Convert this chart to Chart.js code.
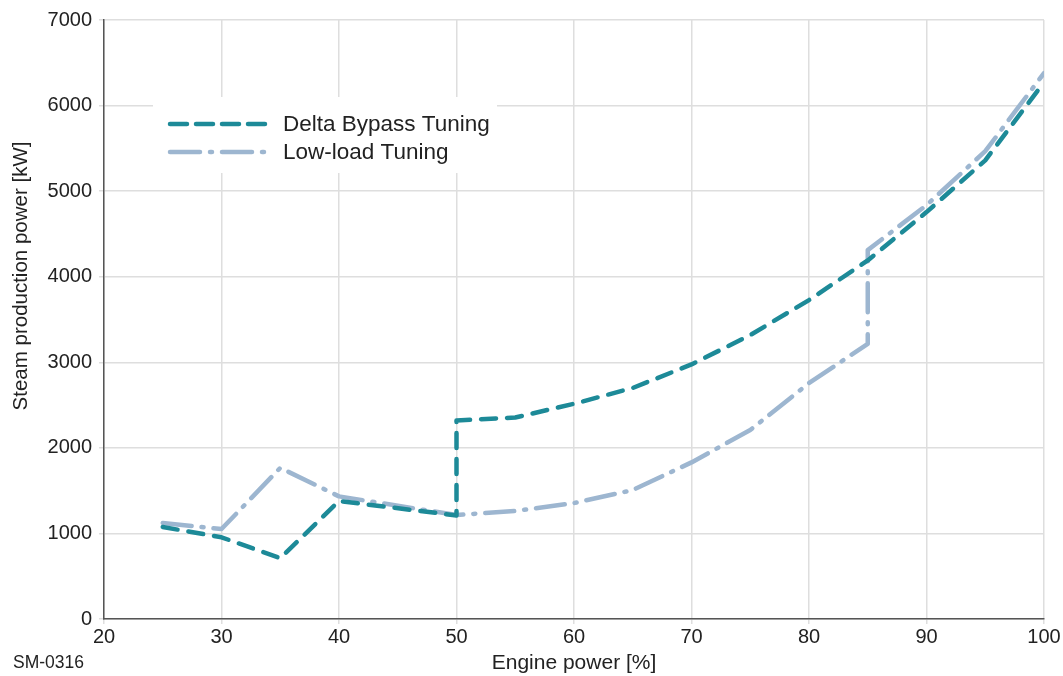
<!DOCTYPE html>
<html><head><meta charset="utf-8">
<script src="https://cdn.jsdelivr.net/npm/chart.js@4"></script>
<style>html,body{margin:0;padding:0;background:#fff}#wrap{width:1063px;height:676px;position:relative}</style>
</head><body><div id="wrap"><canvas id="c" width="1063" height="676"></canvas></div>
<script>
const deltaX = [25, 30, 35, 40, 50, 50, 55, 60, 65, 70, 75, 80, 85, 90, 95, 100];
const deltaY = [1075, 955, 710, 1379, 1210, 2320, 2355, 2515, 2700, 2975, 3318, 3727, 4190, 4755, 5360, 6273];
const lowX = [25, 30, 35, 40, 50, 55, 60, 65, 70, 75, 80, 85, 85, 90, 95, 100];
const lowY = [1123, 1051, 1766, 1433, 1215, 1262, 1355, 1507, 1830, 2208, 2757, 3215, 4311, 4836, 5467, 6379];
const xTicks = [20, 30, 40, 50, 60, 70, 80, 90, 100];
const yTicks = [0, 1000, 2000, 3000, 4000, 5000, 6000, 7000];
const seriesNames = ['Delta Bypass Tuning', 'Low-load Tuning'];
const yTitle = 'Steam production power [kW]';
const xTitle = 'Engine power [%]';
const figId = 'SM-0316';
const colDelta = '#1d8a98';
const colLow = '#9db6d0';
const dashDelta = [15, 11];
const dashLow = [29, 10, 2, 10];
const FONT = "'Liberation Sans', Arial, sans-serif";

const pts = (xs, ys) => xs.map((x, i) => ({x, y: ys[i]}));

const legendPlugin = {
  id: 'customLegend',
  afterDatasetsDraw(chart) {
    const ctx = chart.ctx;
    ctx.save();
    ctx.fillStyle = '#fff';
    ctx.fillRect(153, 97, 344, 76);
    const items = [
      {y: 124, color: colDelta, dash: [17, 9], label: seriesNames[0]},
      {y: 152, color: colLow, dash: [30, 10, 2, 10], label: seriesNames[1]}
    ];
    items.forEach(it => {
      ctx.strokeStyle = it.color;
      ctx.lineWidth = 4.5;
      ctx.lineCap = 'round';
      ctx.setLineDash(it.dash);
      ctx.beginPath();
      ctx.moveTo(170, it.y);
      ctx.lineTo(266, it.y);
      ctx.stroke();
      ctx.setLineDash([]);
      ctx.fillStyle = '#222';
      ctx.font = '22.5px ' + FONT;
      ctx.textBaseline = 'middle';
      ctx.textAlign = 'left';
      ctx.fillText(it.label, 283, it.y + 1);
    });
    ctx.font = '17.5px ' + FONT;
    ctx.textBaseline = 'middle';
    ctx.fillStyle = '#222';
    ctx.fillText(figId, 13, 663);
    ctx.translate(21, 276);
    ctx.rotate(-Math.PI / 2);
    ctx.textAlign = 'center';
    ctx.font = '20.5px ' + FONT;
    ctx.fillText(yTitle, 0, 0);
    ctx.restore();
  }
};

new Chart(document.getElementById('c'), {
  type: 'line',
  data: {
    datasets: [
      {label: seriesNames[0], data: pts(deltaX, deltaY), borderColor: colDelta, borderWidth: 4.5,
       borderDash: dashDelta, borderCapStyle: 'round', borderJoinStyle: 'round', pointRadius: 0, tension: 0, fill: false},
      {label: seriesNames[1], data: pts(lowX, lowY), borderColor: colLow, borderWidth: 4.5,
       borderDash: dashLow, borderCapStyle: 'round', borderJoinStyle: 'round', pointRadius: 0, tension: 0, fill: false}
    ]
  },
  options: {
    responsive: false,
    animation: false,
    layout: {padding: {top: 20, right: 19, left: 0, bottom: 0}},
    plugins: {legend: {display: false}, tooltip: {enabled: false}},
    scales: {
      x: {
        type: 'linear', min: 20, max: 100,
        afterBuildTicks: s => { s.ticks = xTicks.map(v => ({value: v})); },
        afterFit: s => { s.height = 57; },
        grid: {color: '#dedede', lineWidth: 1.5, tickLength: 5},
        border: {color: '#555', width: 1.5},
        ticks: {color: '#222', font: {size: 20, family: FONT}, padding: 1, maxRotation: 0, callback: v => String(v)},
        title: {display: true, text: xTitle, color: '#222', font: {size: 21, family: FONT}, padding: {top: 0, bottom: 0}}
      },
      y: {
        type: 'linear', min: 0, max: 7000,
        afterBuildTicks: s => { s.ticks = yTicks.map(v => ({value: v})); },
        afterFit: s => { s.width = 104; },
        grid: {color: '#dedede', lineWidth: 1.5, tickLength: 5},
        border: {color: '#555', width: 1.5},
        ticks: {color: '#222', font: {size: 20, family: FONT}, padding: 7, callback: v => String(v)},
        title: {display: false}
      }
    }
  },
  plugins: [legendPlugin]
});
</script></body></html>
